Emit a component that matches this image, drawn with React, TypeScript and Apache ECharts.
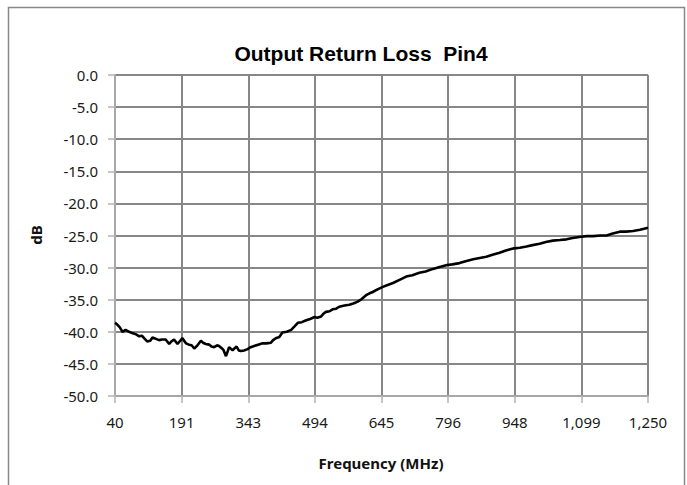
import React, { useEffect, useRef } from "react";
import * as echarts from "echarts";

const TITLE = "Output Return Loss  Pin4";
const X_NAME = "Frequency (MHz)";
const Y_NAME = "dB";

const X_MIN = 40;
const X_MAX = 1250;
const X_STEP = 151.25;

const Y_MIN = -50;
const Y_MAX = 0;
const Y_STEP = 5;

const freqMHz = [
  40, 44, 51, 57, 64, 72, 79, 88, 95, 101, 106, 113, 120, 125, 133, 140, 147, 155, 163, 168,
  174, 182, 188, 193, 201, 208, 214, 220, 226, 235, 240, 246, 254, 259, 265, 272, 276, 281, 286, 292,
  296, 299, 304, 307, 311, 316, 321, 326, 333, 341, 348, 356, 365, 375, 384, 394, 399, 405, 413, 420,
  430, 440, 447, 455, 464, 474, 483, 493, 499, 508, 513, 519, 527, 534, 542, 549, 561, 572, 581, 591,
  600, 610, 618, 625, 636, 648, 659, 671, 686, 701, 715, 731, 745, 762, 777, 794, 806, 822, 836, 853,
  868, 883, 897, 913, 929, 946, 959, 974, 988, 1004, 1018, 1034, 1050, 1065, 1079, 1098, 1111, 1126, 1141, 1156,
  1170, 1186, 1200, 1216, 1232, 1250,
];

const returnLossDb = [
  -38.6, -38.8, -39.3, -40.0, -39.7, -40.0, -40.2, -40.4, -40.7, -40.6, -41.0, -41.5, -41.4, -40.9, -41.1, -41.3, -41.2, -41.2, -41.9, -41.5,
  -41.2, -41.9, -41.4, -41.0, -41.8, -42.0, -42.1, -42.6, -42.2, -41.4, -41.7, -41.9, -42.0, -42.3, -42.4, -42.1, -42.2, -42.5, -42.8, -43.8,
  -43.0, -42.4, -42.7, -42.9, -42.6, -42.3, -42.9, -43.0, -42.9, -42.7, -42.4, -42.2, -42.0, -41.8, -41.8, -41.7, -41.3, -41.0, -40.8, -40.1,
  -40.0, -39.7, -39.2, -38.6, -38.5, -38.2, -38.0, -37.7, -37.8, -37.6, -37.2, -36.9, -36.8, -36.5, -36.4, -36.1, -35.9, -35.8, -35.6, -35.3,
  -34.9, -34.3, -34.0, -33.8, -33.4, -33.0, -32.7, -32.4, -31.9, -31.4, -31.2, -30.8, -30.6, -30.2, -29.9, -29.6, -29.5, -29.3, -29.0, -28.7,
  -28.5, -28.3, -28.0, -27.7, -27.3, -27.0, -26.9, -26.7, -26.5, -26.3, -26.0, -25.8, -25.7, -25.6, -25.4, -25.2, -25.1, -25.1, -25.0, -25.0,
  -24.7, -24.4, -24.4, -24.3, -24.1, -23.8,
];

const GRID_COLOR = "#878787";
const AXIS_COLOR = "#b3b3b3";
const LABEL_FONT = "'Noto Sans', 'Open Sans', sans-serif";

export default function App() {
  const ref = useRef<HTMLDivElement>(null);

  useEffect(() => {
    if (!ref.current) return;
    const chart = echarts.init(ref.current, null, { renderer: "svg" });
    const data = freqMHz.map((f, i) => [f - X_MIN, returnLossDb[i]]);
    chart.setOption({
      animation: false,
      backgroundColor: "#ffffff",
      grid: { left: 115, right: 39, top: 75, bottom: 89, containLabel: false },
      xAxis: {
        type: "value",
        min: 0,
        max: X_MAX - X_MIN,
        interval: X_STEP,
        axisLine: { show: true, onZero: false, lineStyle: { color: AXIS_COLOR, width: 1.5 } },
        axisTick: { show: true, length: 7, lineStyle: { color: AXIS_COLOR, width: 1.5 } },
        splitLine: { show: true, lineStyle: { color: GRID_COLOR, width: 2 } },
        axisLabel: {
          margin: 18,
          color: "#1a1a1a",
          fontSize: 15,
          fontFamily: LABEL_FONT,
          showMinLabel: true,
          showMaxLabel: true,
          formatter: (v: number) => Math.round(v + X_MIN).toLocaleString("en-US"),
        },
      },
      yAxis: {
        type: "value",
        min: Y_MIN,
        max: Y_MAX,
        interval: Y_STEP,
        axisLine: { show: true, lineStyle: { color: AXIS_COLOR, width: 1.5 } },
        axisTick: { show: true, length: 7, lineStyle: { color: AXIS_COLOR, width: 1.5 } },
        splitLine: { show: true, lineStyle: { color: GRID_COLOR, width: 2 } },
        axisLabel: {
          margin: 17,
          color: "#1a1a1a",
          fontSize: 15,
          fontFamily: LABEL_FONT,
          formatter: (v: number) => v.toFixed(1),
        },
      },
      series: [
        {
          type: "line",
          data,
          showSymbol: false,
          symbol: "none",
          lineStyle: { color: "#000000", width: 2.6 },
          z: 5,
        },
      ],
      graphic: [
        {
          type: "rect",
          shape: { x: 8.5, y: 7.5, width: 676, height: 500 },
          style: { fill: "none", stroke: "#888888", lineWidth: 1.5 },
          silent: true,
        },
        {
          type: "text",
          x: 361,
          y: 53,
          style: {
            text: TITLE,
            fill: "#000",
            font: "bold 21px 'Liberation Sans', Arial, sans-serif",
            textAlign: "center",
            textVerticalAlign: "middle",
          },
        },
        {
          type: "text",
          x: 381,
          y: 463,
          style: {
            text: X_NAME,
            fill: "#111",
            font: "bold 15px 'Noto Sans', 'Open Sans', sans-serif",
            textAlign: "center",
            textVerticalAlign: "middle",
          },
        },
        {
          type: "text",
          x: 36,
          y: 235,
          rotation: Math.PI / 2,
          style: {
            text: Y_NAME,
            fill: "#111",
            font: "bold 15px 'Noto Sans', 'Open Sans', sans-serif",
            textAlign: "center",
            textVerticalAlign: "middle",
          },
        },
      ],
    });
    return () => chart.dispose();
  }, []);

  return (
    <div
      ref={ref}
      style={{ position: "absolute", left: 0, top: 0, width: 687, height: 485 }}
    />
  );
}
